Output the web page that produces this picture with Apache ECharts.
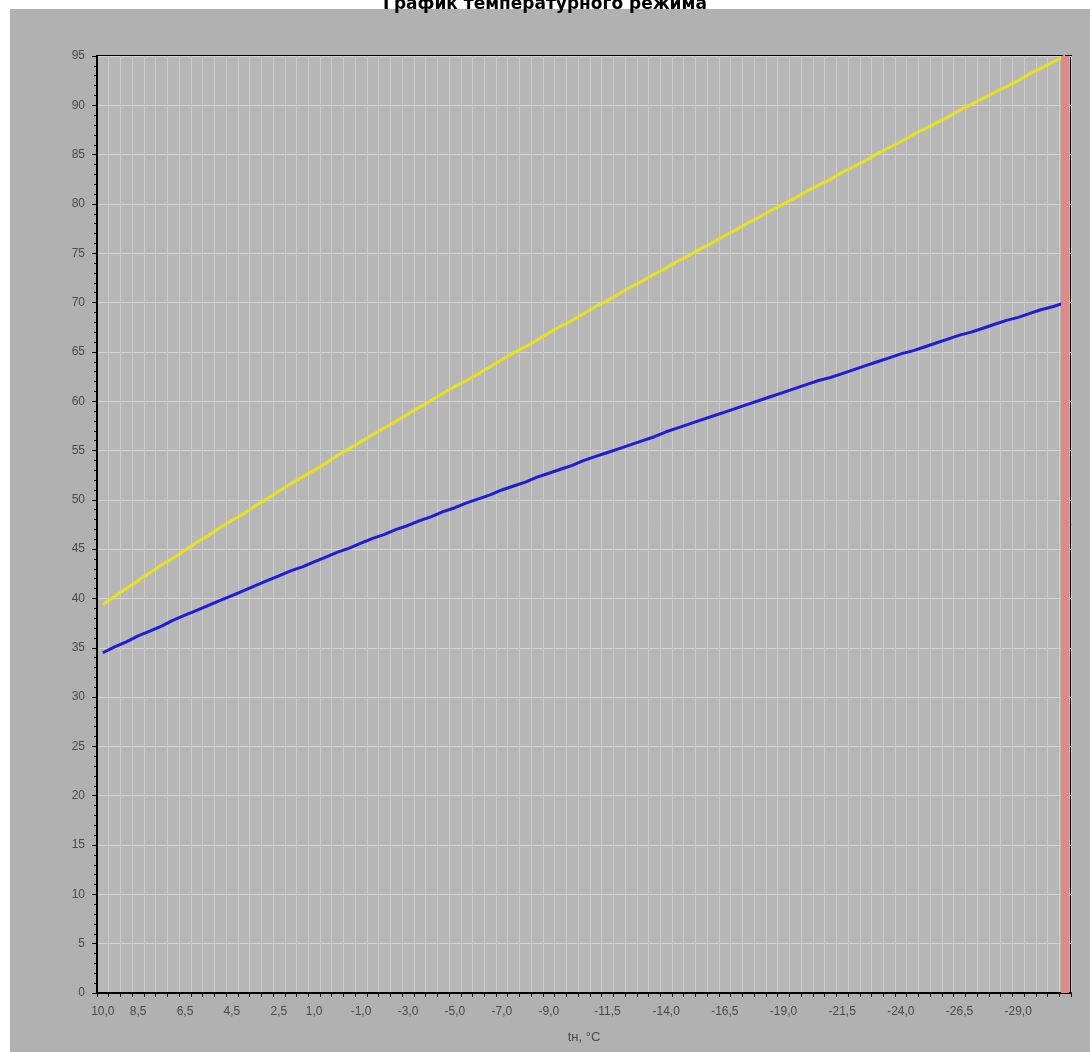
<!DOCTYPE html>
<html>
<head>
<meta charset="utf-8">
<script src="https://cdn.jsdelivr.net/npm/echarts@6/dist/echarts.min.js"></script>
<style>
html,body{margin:0;padding:0;background:#ffffff;}
#bg{position:absolute;left:10px;top:9px;width:1080px;height:1043px;background:#b1b1b1;}
#chart{position:absolute;left:0;top:0;width:1090px;height:1052px;}
</style>
</head>
<body>
<div id="bg"></div>
<div id="chart"></div>
<script>
// Outdoor temperature categories (tн, °C), 10,0 … -31,0 in 0,5 steps
const categories = [
'10,0','9,5','9,0','8,5','8,0','7,5','7,0','6,5','6,0','5,5',
'5,0','4,5','4,0','3,5','3,0','2,5','2,0','1,5','1,0','0,5',
'0,0','-0,5','-1,0','-1,5','-2,0','-2,5','-3,0','-3,5','-4,0','-4,5',
'-5,0','-5,5','-6,0','-6,5','-7,0','-7,5','-8,0','-8,5','-9,0','-9,5',
'-10,0','-10,5','-11,0','-11,5','-12,0','-12,5','-13,0','-13,5','-14,0','-14,5',
'-15,0','-15,5','-16,0','-16,5','-17,0','-17,5','-18,0','-18,5','-19,0','-19,5',
'-20,0','-20,5','-21,0','-21,5','-22,0','-22,5','-23,0','-23,5','-24,0','-24,5',
'-25,0','-25,5','-26,0','-26,5','-27,0','-27,5','-28,0','-28,5','-29,0','-29,5',
'-30,0','-30,5','-31,0'
];
// Tick labels shown on the x axis
const xTickLabels = ['10,0','8,5','6,5','4,5','2,5','1,0','-1,0','-3,0','-5,0','-7,0','-9,0',
'-11,5','-14,0','-16,5','-19,0','-21,5','-24,0','-26,5','-29,0'];
// Supply temperature (yellow)
const supply = [
39.4,40.2,41.0,41.8,42.6,43.4,44.1,44.9,45.7,46.4,
47.2,47.9,48.6,49.4,50.1,50.9,51.6,52.3,53.0,53.7,
54.5,55.2,55.9,56.6,57.3,58.0,58.7,59.4,60.1,60.8,
61.5,62.1,62.8,63.5,64.2,64.9,65.5,66.2,66.9,67.6,
68.2,68.9,69.6,70.2,70.9,71.6,72.2,72.9,73.5,74.2,
74.8,75.5,76.1,76.8,77.4,78.1,78.7,79.4,80.0,80.6,
81.3,81.9,82.5,83.2,83.8,84.4,85.1,85.7,86.3,87.0,
87.6,88.2,88.8,89.5,90.1,90.7,91.3,91.9,92.5,93.2,
93.8,94.4,95.0
];
// Return temperature (blue)
const returnT = [
34.5,35.1,35.6,36.2,36.7,37.2,37.8,38.3,38.8,39.3,
39.8,40.3,40.8,41.3,41.8,42.3,42.8,43.2,43.7,44.2,
44.7,45.1,45.6,46.1,46.5,47.0,47.4,47.9,48.3,48.8,
49.2,49.7,50.1,50.5,51.0,51.4,51.8,52.3,52.7,53.1,
53.5,54.0,54.4,54.8,55.2,55.6,56.0,56.4,56.9,57.3,
57.7,58.1,58.5,58.9,59.3,59.7,60.1,60.5,60.9,61.3,
61.7,62.1,62.4,62.8,63.2,63.6,64.0,64.4,64.8,65.1,
65.5,65.9,66.3,66.7,67.0,67.4,67.8,68.2,68.5,68.9,
69.3,69.6,70.0
];
const designTemp = '-31,0';

const chart = echarts.init(document.getElementById('chart'), null, {renderer:'canvas'});
const labelFont = {fontFamily:'Liberation Sans, Arial, sans-serif', fontSize:12, color:'#4a4a4a'};
chart.setOption({
  backgroundColor:'transparent',
  animation:false,
  title:{
    text:'График температурного режима',
    left:'center', top:-9,
    textStyle:{fontFamily:'DejaVu Sans, sans-serif', fontWeight:'bold', fontSize:17, color:'#000'}
  },
  grid:{
    left:97, right:19, top:56, bottom:59,
    show:true, backgroundColor:'#b7b7b7', borderColor:'#000', borderWidth:2
  },
  xAxis:{
    type:'category',
    data:categories,
    boundaryGap:true,
    name:'tн, °C',
    nameLocation:'middle',
    nameGap:38,
    nameTextStyle:Object.assign({}, labelFont, {fontSize:13}),
    axisLine:{lineStyle:{color:'#000', width:2}},
    axisTick:{show:true, interval:0, length:4, lineStyle:{color:'#000'}},
    axisLabel:Object.assign({
      interval:function(i, v){ return xTickLabels.indexOf(v) >= 0; },
      margin:13
    }, labelFont),
    splitLine:{show:true, interval:0, lineStyle:{color:'#cbcbcb', width:1}}
  },
  yAxis:{
    type:'value',
    min:0, max:95, interval:5,
    axisLine:{show:true, lineStyle:{color:'#000', width:2}},
    axisTick:{show:true, length:5, lineStyle:{color:'#000'}},
    minorTick:{show:true, splitNumber:5, length:3, lineStyle:{color:'#000'}},
    axisLabel:Object.assign({margin:12}, labelFont),
    splitLine:{show:true, lineStyle:{color:'#d4d4d4', width:1}}
  },
  series:[
    {
      type:'line', data:[], z:1, silent:true,
      markLine:{
        silent:true, symbol:'none', label:{show:false},
        lineStyle:{color:'#df8a8a', width:8, type:'solid'},
        data:[{xAxis:designTemp}]
      }
    },
    {
      name:'T1', type:'line', data:supply, symbol:'none', z:3,
      lineStyle:{color:'#e8e21e', width:3}
    },
    {
      name:'T2', type:'line', data:returnT, symbol:'none', z:3,
      lineStyle:{color:'#1e1ed6', width:3}
    }
  ]
});
</script>
</body>
</html>
